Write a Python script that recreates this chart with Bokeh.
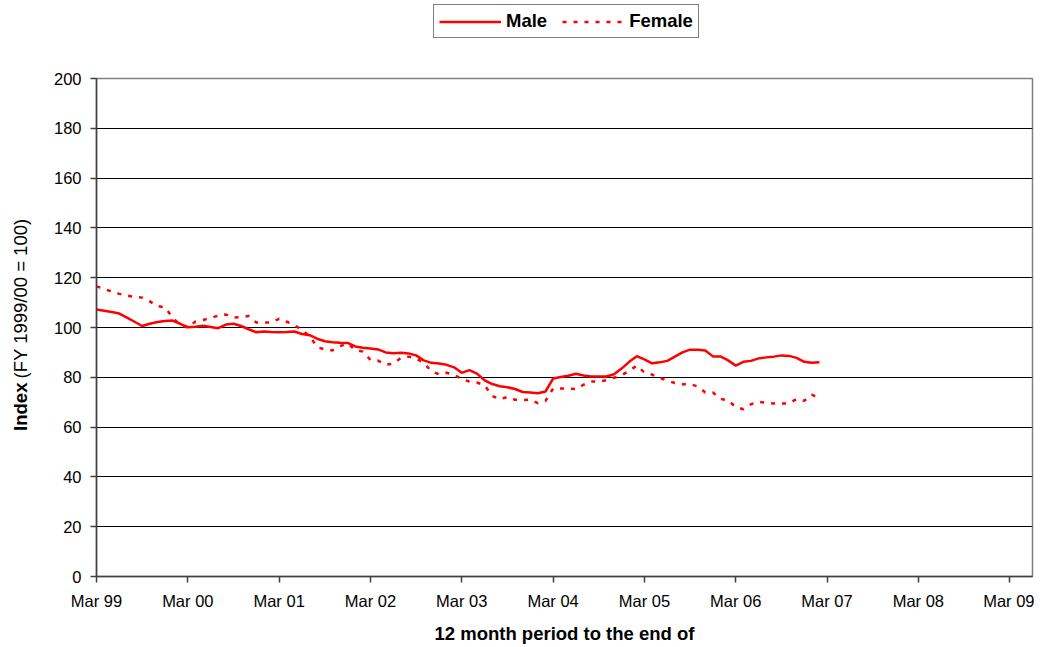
from bokeh.plotting import figure
from bokeh.layouts import row, column
from bokeh.core.properties import value
from bokeh.models import (ColumnDataSource, FixedTicker, Legend, LegendItem, Range1d)
from bokeh.embed import file_html
from bokeh.resources import INLINE

# ---- data (monthly, 12 month rolling index; month 0 = Mar 99) ----
months = list(range(96))
male = [107.2, 106.7, 106.2, 105.6, 104.0, 102.3, 100.6, 101.5, 102.2, 102.6, 102.8, 101.5,
        100.1, 100.3, 100.7, 100.2, 99.7, 101.2, 101.5, 100.6, 99.3, 98.1, 98.4, 98.2,
        98.1, 98.2, 98.4, 97.4, 96.9, 95.5, 94.5, 94.1, 93.9, 93.8, 92.4, 91.9,
        91.6, 91.2, 90.0, 89.7, 89.9, 89.6, 88.8, 86.8, 85.8, 85.5, 85.0, 84.0,
        81.8, 82.9, 81.5, 78.8, 77.3, 76.4, 76.0, 75.3, 74.1, 73.9, 73.6, 74.3,
        79.5, 80.1, 80.6, 81.4, 80.7, 80.3, 80.3, 80.3, 81.2, 83.5, 86.2, 88.5,
        87.2, 85.6, 86.0, 86.6, 88.3, 90.0, 91.1, 91.1, 90.8, 88.4, 88.4, 86.8,
        84.7, 86.2, 86.6, 87.6, 88.0, 88.3, 88.8, 88.6, 87.8, 86.2, 85.8, 86.0]
female = [116.5, 115.5, 114.4, 113.5, 112.8, 112.3, 112.0, 110.5, 108.6, 108.1, 104.0, 101.0,
          100.0, 102.4, 103.0, 103.8, 104.8, 105.2, 104.0, 104.2, 104.6, 102.0, 102.0, 102.0,
          103.5, 102.3, 101.0, 99.0, 96.6, 92.1, 91.2, 90.8, 92.5, 93.6, 91.0, 90.3,
          87.0, 86.7, 85.0, 85.5, 87.8, 88.3, 87.6, 85.8, 82.5, 81.2, 81.8, 81.0,
          79.3, 78.3, 77.9, 76.8, 72.5, 71.2, 72.1, 71.0, 70.9, 71.0, 69.6, 70.5,
          75.5, 75.5, 75.5, 75.3, 77.0, 78.3, 78.3, 78.8, 79.8, 80.8, 82.6, 84.7,
          81.9, 81.1, 79.8, 78.7, 77.7, 77.2, 77.3, 76.3, 73.9, 73.9, 71.3, 70.8,
          68.0, 67.2, 69.2, 70.1, 69.8, 69.5, 69.5, 69.5, 71.3, 70.6, 73.0, 71.6]

series_names = ["Male", "Female"]
tick_positions = [0, 12, 24, 36, 48, 60, 72, 84, 96, 108, 120]
tick_labels = ["Mar 99", "Mar 00", "Mar 01", "Mar 02", "Mar 03", "Mar 04",
               "Mar 05", "Mar 06", "Mar 07", "Mar 08", "Mar 09"]
y_ticks = [0, 20, 40, 60, 80, 100, 120, 140, 160, 180, 200]
y_title_bold = "Index"
y_title_rest = "(FY 1999/00 = 100)"
x_title = "12 month period to the end of"

FONT = "Liberation Sans"
W = 1034
TOP_H = 40
MAIN_H = 606
TITLE_W = 40
RED = "#FF0000"
DASH = "4 7"


def blank_strip(w, h):
    f = figure(width=w, height=h, output_backend="svg", toolbar_location=None,
               x_range=Range1d(0, w), y_range=Range1d(0, h),
               x_axis_location=None, y_axis_location=None,
               min_border_left=0, min_border_right=0, min_border_top=0, min_border_bottom=0,
               background_fill_color="white", border_fill_color="white")
    f.outline_line_color = None
    f.xgrid.visible = False
    f.ygrid.visible = False
    return f


src = ColumnDataSource(dict(x=months, male=male, female=female))

p = figure(width=W - TITLE_W, height=MAIN_H, output_backend="svg", toolbar_location=None,
           x_range=Range1d(0, 123), y_range=Range1d(0, 200),
           min_border_left=96 - TITLE_W, min_border_right=2, min_border_top=78 - TOP_H,
           min_border_bottom=70,
           background_fill_color="white", border_fill_color="white")
p.outline_line_color = "#808080"
p.outline_line_width = 1.5

# grid
p.xgrid.visible = False
p.ygrid.ticker = FixedTicker(ticks=y_ticks)
p.ygrid.grid_line_color = "black"
p.ygrid.grid_line_width = 1

# axes
for ax in (p.xaxis[0], p.yaxis[0]):
    ax.axis_line_color = "#404040"
    ax.axis_line_width = 1.5
    ax.major_tick_line_color = "#404040"
    ax.major_tick_line_width = 1.5
    ax.major_tick_in = 0
    ax.major_tick_out = 6
    ax.minor_tick_line_color = None
    ax.major_label_text_font = FONT
    ax.major_label_text_font_size = "16.5px"
    ax.major_label_text_color = "black"
    ax.major_label_standoff = 9

p.xaxis.ticker = FixedTicker(ticks=tick_positions)
p.xaxis.major_label_overrides = {t: l for t, l in zip(tick_positions, tick_labels)}
p.xaxis.axis_label = x_title
p.xaxis.axis_label_text_font = FONT
p.xaxis.axis_label_text_font_size = "18.5px"
p.xaxis.axis_label_text_font_style = "bold"
p.xaxis.axis_label_text_color = "black"
p.xaxis.axis_label_standoff = 10

p.yaxis.ticker = FixedTicker(ticks=y_ticks)

# data lines
p.line("x", "male", source=src, line_color=RED, line_width=2.5)
p.line("x", "female", source=src, line_color=RED, line_width=2.5, line_dash=DASH)

# ---- legend strip above the plot (proxy renderers kept outside the visible range) ----
top = blank_strip(W, TOP_H)
proxy = ColumnDataSource(dict(x=[-200, -100], y=[-200, -200]))
lg_m = top.line("x", "y", source=proxy, line_color=RED, line_width=2.5)
lg_f = top.line("x", "y", source=proxy, line_color=RED, line_width=2.5, line_dash=DASH)
legend = Legend(items=[LegendItem(label=series_names[0], renderers=[lg_m]),
                       LegendItem(label=series_names[1], renderers=[lg_f])],
                orientation="horizontal", location=(433, 2),
                label_text_font=FONT, label_text_font_size="18.5px",
                label_text_font_style="bold", label_text_color="black",
                glyph_width=62, glyph_height=21, label_height=21, label_standoff=5,
                spacing=15, padding=5, margin=0,
                border_line_color="black", border_line_width=1,
                background_fill_color="white", background_fill_alpha=1)
top.add_layout(legend, "center")

# ---- y axis title strip: bold "Index" + normal rest, rotated ----
t = blank_strip(TITLE_W, MAIN_H)
ysplit = 236
t.text(x=[20], y=[ysplit], text=[y_title_bold], angle=90, angle_units="deg",
       text_align="right", text_baseline="middle", text_font=value(FONT),
       text_font_size="18.5px", text_font_style="bold", text_color="black")
t.text(x=[20], y=[ysplit + 5], text=[y_title_rest], angle=90, angle_units="deg",
       text_align="left", text_baseline="middle", text_font=value(FONT),
       text_font_size="18.5px", text_font_style="normal", text_color="black")

layout = column(top, row(t, p, spacing=0), spacing=0)
open("out.html", "w").write(file_html(layout, INLINE))
